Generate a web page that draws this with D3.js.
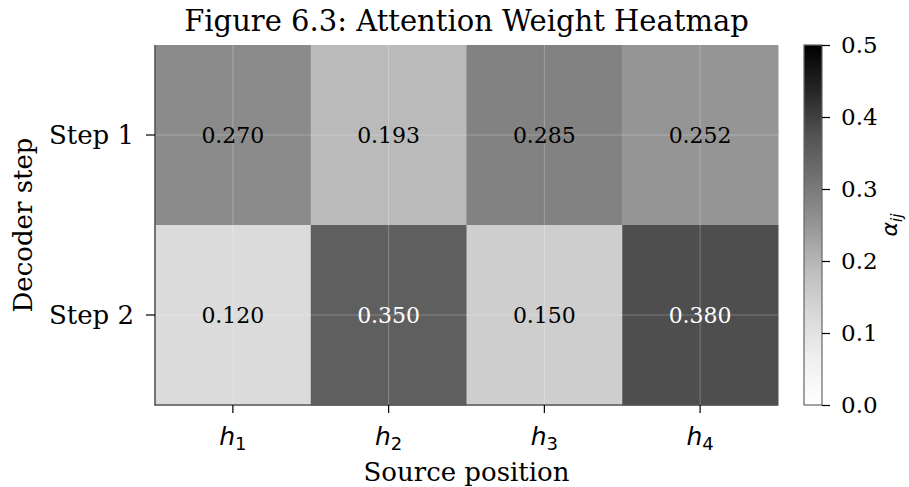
<!DOCTYPE html>
<html>
<head>
<meta charset="utf-8">
<title>Attention Weight Heatmap</title>
<script src="https://cdnjs.cloudflare.com/ajax/libs/d3/7.8.5/d3.min.js"></script>
<style>
  body { margin: 0; background: #fff; }
  text { font-family: "DejaVu Serif", serif; fill: #000; }
</style>
</head>
<body>
<script>
var width = 909, height = 487;

var sources = ["1", "2", "3", "4"];
var steps = ["Step 1", "Step 2"];
var weights = [
  [0.270, 0.193, 0.285, 0.252],
  [0.120, 0.350, 0.150, 0.380]
];
var cbarTicks = [0.0, 0.1, 0.2, 0.3, 0.4, 0.5];

// plot box
var pLeft = 155, pRight = 778, pTop = 45, pBottom = 405;

var svg = d3.select("body").append("svg").attr("width", width).attr("height", height);

var x = d3.scaleBand().domain(sources).range([pLeft, pRight]).padding(0);
var y = d3.scaleBand().domain(steps).range([pTop, pBottom]).padding(0);

// matplotlib "Greys", linear between the 9 brewer stops
var greys = ["#ffffff", "#f0f0f0", "#d9d9d9", "#bdbdbd", "#969696", "#737373", "#525252", "#252525", "#000000"];
var color = d3.scaleLinear()
  .domain(d3.range(9).map(function(i) { return 0.5 * i / 8; }))
  .range(greys).clamp(true);

var cells = [];
weights.forEach(function(row, i) {
  row.forEach(function(v, j) { cells.push({ step: steps[i], src: sources[j], v: v }); });
});

svg.append("g").selectAll("rect").data(cells).join("rect")
  .attr("x", function(d) { return x(d.src); })
  .attr("y", function(d) { return y(d.step); })
  .attr("width", x.bandwidth() + 0.5)
  .attr("height", y.bandwidth() + 0.5)
  .attr("fill", function(d) { return color(d.v); });

// grid lines at tick centres
var grid = svg.append("g").attr("stroke", "#ffffff").attr("stroke-opacity", 0.25).attr("stroke-width", 1);
sources.forEach(function(s) {
  var cx = x(s) + x.bandwidth() / 2;
  grid.append("line").attr("x1", cx).attr("x2", cx).attr("y1", pTop).attr("y2", pBottom);
});
steps.forEach(function(s) {
  var cy = y(s) + y.bandwidth() / 2;
  grid.append("line").attr("x1", pLeft).attr("x2", pRight).attr("y1", cy).attr("y2", cy);
});

// annotations
svg.append("g").selectAll("text").data(cells).join("text")
  .attr("x", function(d) { return x(d.src) + x.bandwidth() / 2; })
  .attr("y", function(d) { return y(d.step) + y.bandwidth() / 2; })
  .attr("text-anchor", "middle")
  .attr("dominant-baseline", "central")
  .style("font-size", "22px")
  .style("fill", function(d) { return d.v > 0.3 ? "#ffffff" : "#000000"; })
  .text(function(d) { return d.v.toFixed(3); });

// spines
svg.append("line").attr("x1", pLeft).attr("x2", pLeft).attr("y1", pTop).attr("y2", pBottom + 0.5)
  .attr("stroke", "#555").attr("stroke-width", 1.6);
svg.append("line").attr("x1", pLeft - 0.5).attr("x2", pRight).attr("y1", pBottom).attr("y2", pBottom)
  .attr("stroke", "#555").attr("stroke-width", 1.6);

// x ticks
var xt = svg.append("g");
sources.forEach(function(s) {
  var cx = x(s) + x.bandwidth() / 2;
  xt.append("line").attr("x1", cx).attr("x2", cx).attr("y1", pBottom).attr("y2", pBottom + 8)
    .attr("stroke", "#000").attr("stroke-width", 1.2);
  var t = xt.append("text").attr("x", cx).attr("y", pBottom + 40).attr("text-anchor", "middle")
    .style("font-family", "'DejaVu Sans', sans-serif").style("font-size", "25px");
  t.append("tspan").style("font-style", "italic").text("h");
  t.append("tspan").attr("dy", 5).style("font-size", "18px").text(s);
});

// y ticks
var yt = svg.append("g");
steps.forEach(function(s) {
  var cy = y(s) + y.bandwidth() / 2;
  yt.append("line").attr("x1", pLeft - 9).attr("x2", pLeft).attr("y1", cy).attr("y2", cy)
    .attr("stroke", "#000").attr("stroke-width", 1.2);
  yt.append("text").attr("x", pLeft - 21).attr("y", cy).attr("text-anchor", "end")
    .attr("dominant-baseline", "central").style("font-size", "26px").text(s);
});

// axis labels and title
svg.append("text").attr("x", (pLeft + pRight) / 2).attr("y", 481).attr("text-anchor", "middle")
  .style("font-size", "26px").text("Source position");
svg.append("text").attr("transform", "translate(32," + (pTop + pBottom) / 2 + ") rotate(-90)")
  .attr("text-anchor", "middle").style("font-size", "26px").text("Decoder step");
svg.append("text").attr("x", (pLeft + pRight) / 2).attr("y", 31).attr("text-anchor", "middle")
  .style("font-size", "29px").text("Figure 6.3: Attention Weight Heatmap");

// colorbar
var cbX = 804, cbW = 18;
var cy = d3.scaleLinear().domain([0, 0.5]).range([pBottom, pTop]);
var defs = svg.append("defs");
var grad = defs.append("linearGradient").attr("id", "cbgrad")
  .attr("x1", 0).attr("y1", 1).attr("x2", 0).attr("y2", 0);
greys.forEach(function(c, i) {
  grad.append("stop").attr("offset", (i / 8 * 100) + "%").attr("stop-color", c);
});
svg.append("rect").attr("x", cbX).attr("y", pTop).attr("width", cbW).attr("height", pBottom - pTop)
  .attr("fill", "url(#cbgrad)").attr("stroke", "#666").attr("stroke-width", 1.2);

var cbAxis = d3.axisRight(cy).tickValues(cbarTicks).tickFormat(d3.format(".1f")).tickSize(8).tickPadding(11);
var cbg = svg.append("g").attr("transform", "translate(" + (cbX + cbW) + ",0)").call(cbAxis);
cbg.select(".domain").remove();
cbg.selectAll(".tick line").attr("stroke", "#000").attr("stroke-width", 1.2);
cbg.selectAll(".tick text").style("font-family", "'DejaVu Serif', serif").style("font-size", "23px").attr("fill", "#000");

var cbl = svg.append("text").attr("transform", "translate(897," + (pTop + pBottom) / 2 + ") rotate(-90)")
  .attr("text-anchor", "middle").style("font-family", "'DejaVu Sans', sans-serif").style("font-size", "22px");
cbl.append("tspan").style("font-style", "italic").text("α");
cbl.append("tspan").attr("dy", 5).style("font-size", "15px").style("font-style", "italic").text("ij");
</script>
</body>
</html>
